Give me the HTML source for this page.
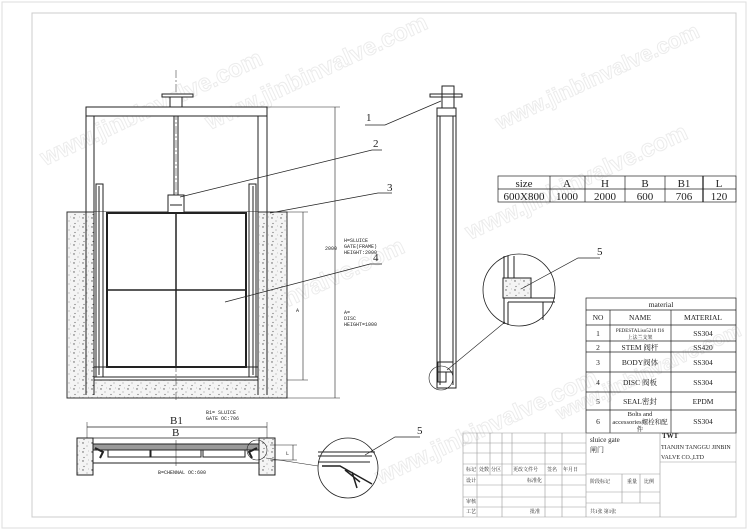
<!DOCTYPE html>
<html><head><meta charset="utf-8"><style>
html,body{margin:0;padding:0;background:#fff;width:750px;height:531px;overflow:hidden}
svg{display:block}
text{font-family:"Liberation Serif","Noto Serif CJK SC",serif;fill:#222}
.s{font-family:"Liberation Mono","Noto Sans CJK SC",monospace;font-size:5px}
.wm{font-family:"Liberation Sans",sans-serif;font-size:24px;font-weight:bold;fill:none;stroke:#ececec;stroke-width:1}
</style></head><body>
<svg width="750" height="531" viewBox="0 0 750 531" xmlns="http://www.w3.org/2000/svg" overflow="hidden">
<defs>
<pattern id="dots" width="9" height="9" patternUnits="userSpaceOnUse">
<rect width="9" height="9" fill="#f4f4f4"/>
<circle cx="2" cy="2" r="0.7" fill="#555"/><circle cx="6" cy="5" r="0.5" fill="#777"/><circle cx="3" cy="7.5" r="0.6" fill="#666"/><circle cx="7.5" cy="1" r="0.4" fill="#888"/>
</pattern>
</defs>
<rect x="2" y="2" width="744" height="526" fill="none" stroke="#ddd"/>
<rect x="32" y="13" width="704" height="504" fill="none" stroke="#ccc"/>
<text class="wm" transform="translate(45,166) rotate(-25)">www.jinbinvalve.com</text>
<text class="wm" transform="translate(210,130) rotate(-25)">www.jinbinvalve.com</text>
<text class="wm" transform="translate(187,354) rotate(-25)">www.jinbinvalve.com</text>
<text class="wm" transform="translate(470,240) rotate(-25)">www.jinbinvalve.com</text>
<text class="wm" transform="translate(380,485) rotate(-25)">www.jinbinvalve.com</text>
<text class="wm" style="font-size:22px" transform="translate(500,130) rotate(-25)">www.jinbinvalve.com</text>
<text class="wm" style="font-size:20px" transform="translate(560,420) rotate(-25)">www.jinbinvalve.com</text>
<g stroke="#222" fill="none" stroke-width="1">
<rect x="67" y="212" width="220" height="186" fill="url(#dots)" stroke="#333"/>
<rect x="94" y="212" width="164" height="168" fill="#fff" stroke="none"/>
<line x1="176" y1="70" x2="176" y2="400" stroke-dasharray="8,2,2,2" stroke-width="0.5"/>
<rect x="162" y="94" width="31" height="3" fill="#fff"/>
<rect x="170" y="97" width="12" height="11" fill="#fff"/>
<rect x="86" y="107" width="181" height="9" fill="#fff"/>
<line x1="86" y1="116" x2="86" y2="395"/><line x1="94" y1="116" x2="94" y2="395"/>
<line x1="258" y1="116" x2="258" y2="395"/><line x1="267" y1="116" x2="267" y2="395"/>
<rect x="174" y="116" width="4" height="79"/>
<rect x="168" y="195" width="16" height="18" fill="#fff"/>
<line x1="170" y1="205" x2="182" y2="205"/>
<rect x="96" y="184" width="7" height="193"/><line x1="99" y1="186" x2="99" y2="375"/>
<rect x="249" y="184" width="7" height="193"/><line x1="253" y1="186" x2="253" y2="375"/>
<rect x="107" y="213" width="139" height="154" stroke-width="2"/>
<line x1="176" y1="213" x2="176" y2="367" stroke-width="1.5"/>
<line x1="107" y1="290" x2="246" y2="290" stroke-width="1.5"/>
<rect x="94" y="367" width="164" height="10" stroke-width="1"/>
<line x1="94" y1="380" x2="258" y2="380"/>
<line x1="267" y1="107" x2="340" y2="107" stroke-width="0.5"/>
<line x1="287" y1="398" x2="340" y2="398" stroke-width="0.5"/>
<line x1="335" y1="107" x2="335" y2="398" stroke-width="0.6"/>
<line x1="287" y1="212" x2="308" y2="212" stroke-width="0.5"/>
<line x1="287" y1="380" x2="308" y2="380" stroke-width="0.5"/>
<line x1="303" y1="212" x2="303" y2="380" stroke-width="0.6"/>
<polyline points="180,197 372,150 382,150" stroke-width="0.7"/>
<polyline points="270,213 378,193 392,193" stroke-width="0.7"/>
<polyline points="225,302 370,264 382,264" stroke-width="0.7"/>
<polyline points="365,125 385,125 441,101" stroke-width="0.7"/>
<rect x="430" y="94" width="32" height="3" fill="#fff"/>
<rect x="442" y="86" width="12" height="22"/>
<rect x="437" y="108" width="19" height="280" fill="#fff"/>
<line x1="437" y1="116" x2="456" y2="116"/>
<line x1="440" y1="116" x2="440" y2="385"/><line x1="453" y1="116" x2="453" y2="385"/>
<rect x="438" y="362" width="15" height="10"/>
<rect x="438" y="372" width="8" height="10"/>
<circle cx="441" cy="378" r="12" stroke-width="0.6"/>
<circle cx="519" cy="290" r="36" stroke-width="0.8"/>
<line x1="447" y1="370" x2="505" y2="322" stroke-width="0.6"/>
<line x1="504" y1="256" x2="504" y2="324"/><line x1="508" y1="256" x2="508" y2="278"/>
<line x1="514" y1="256" x2="514" y2="278"/>
<rect x="503" y="278" width="28" height="20" fill="url(#dots)"/>
<line x1="508" y1="298" x2="555" y2="298"/><line x1="508" y1="302" x2="555" y2="302"/>
<line x1="508" y1="302" x2="508" y2="325"/><line x1="543" y1="302" x2="543" y2="320"/>
<polyline points="521,289 578,258 600,258" stroke-width="0.7"/>
<line x1="87" y1="422" x2="87" y2="440" stroke-width="0.5"/><line x1="267" y1="422" x2="267" y2="440" stroke-width="0.5"/>
<line x1="87" y1="427" x2="267" y2="427" stroke-width="0.7"/>
<line x1="93" y1="438" x2="262" y2="438" stroke-width="0.7"/>
<rect x="77" y="438" width="16" height="37" fill="url(#dots)"/>
<rect x="259" y="438" width="16" height="37" fill="url(#dots)"/>
<rect x="93" y="444" width="166" height="6" fill="#999"/>
<line x1="93" y1="463" x2="259" y2="463"/>
<rect x="108" y="450" width="42" height="7"/><rect x="151" y="450" width="50" height="7"/><rect x="203" y="450" width="42" height="7"/>
<line x1="176" y1="440" x2="176" y2="466" stroke-width="0.5"/>
<path d="M95,448 L103,452 L100,458 M257,448 L249,452 L252,458" stroke-width="2"/>
<line x1="270" y1="445" x2="297" y2="445" stroke-width="0.5"/><line x1="270" y1="460" x2="297" y2="460" stroke-width="0.5"/>
<line x1="293" y1="445" x2="293" y2="460" stroke-width="0.6"/>
<circle cx="257" cy="450" r="10" stroke-width="0.6"/>
<circle cx="348" cy="468" r="30" stroke-width="0.8"/>
<line x1="266" y1="458" x2="318" y2="466" stroke-width="0.5"/>
<line x1="318" y1="452" x2="375" y2="452"/><line x1="318" y1="456" x2="372" y2="456"/><line x1="318" y1="462" x2="370" y2="462"/>
<path d="M322,466 L340,466 L372,484 M345,470 L360,482 M352,472 L357,488" stroke-width="1.5"/>
<polyline points="365,455 395,437 420,437" stroke-width="0.7"/>
<g stroke-width="0.7">
<rect x="498" y="176" width="238" height="26"/>
<line x1="498" y1="189" x2="736" y2="189"/>
<line x1="550" y1="176" x2="550" y2="202"/><line x1="585" y1="176" x2="585" y2="202"/><line x1="625" y1="176" x2="625" y2="202"/><line x1="665" y1="176" x2="665" y2="202"/><line x1="703" y1="176" x2="703" y2="202" stroke-width="1.3"/>
<rect x="586" y="298" width="150" height="135"/>
<line x1="586" y1="310" x2="736" y2="310"/><line x1="586" y1="325" x2="736" y2="325"/><line x1="586" y1="341" x2="736" y2="341"/><line x1="586" y1="352" x2="736" y2="352"/><line x1="586" y1="372" x2="736" y2="372"/><line x1="586" y1="392" x2="736" y2="392"/><line x1="586" y1="410" x2="736" y2="410"/>
<line x1="610" y1="310" x2="610" y2="433"/><line x1="671" y1="310" x2="671" y2="433"/>
</g>
<g stroke="#999" stroke-width="0.6">
<line x1="463" y1="433" x2="736" y2="433"/>
<line x1="463" y1="433" x2="463" y2="517"/>
<line x1="463" y1="443" x2="586" y2="443"/><line x1="463" y1="453" x2="586" y2="453"/><line x1="463" y1="464" x2="586" y2="464"/><line x1="463" y1="475" x2="586" y2="475"/><line x1="463" y1="485" x2="586" y2="485"/><line x1="463" y1="497" x2="586" y2="497"/><line x1="463" y1="507" x2="586" y2="507"/>
<line x1="477" y1="433" x2="477" y2="517"/><line x1="490" y1="433" x2="490" y2="475"/><line x1="502" y1="433" x2="502" y2="517"/><line x1="512" y1="433" x2="512" y2="475"/><line x1="545" y1="433" x2="545" y2="517"/><line x1="562" y1="433" x2="562" y2="517"/>
<line x1="586" y1="433" x2="586" y2="517"/>
<line x1="660" y1="433" x2="660" y2="517"/>
<line x1="660" y1="462" x2="736" y2="462"/>
<line x1="586" y1="474" x2="660" y2="474"/><line x1="586" y1="492" x2="660" y2="492"/><line x1="586" y1="503" x2="660" y2="503"/>
<line x1="622" y1="474" x2="622" y2="503"/><line x1="640" y1="474" x2="640" y2="503"/>
</g>
</g>
<g font-size="11">
<text x="366" y="121">1</text><text x="373" y="147">2</text><text x="387" y="191">3</text><text x="373" y="261">4</text>
<text x="597" y="255">5</text><text x="417" y="434">5</text>
<text x="170" y="424">B1</text><text x="172" y="436">B</text>
</g>
<text class="s" x="344" y="242">H=SLUICE</text><text class="s" x="344" y="248">GATE(FRAME)</text><text class="s" x="344" y="254">HEIGHT:2000</text>
<text class="s" x="344" y="314">A=</text><text class="s" x="344" y="320">DISC</text><text class="s" x="344" y="326">HEIGHT=1000</text>
<text class="s" x="325" y="250">2000</text><text class="s" x="296" y="312">A</text>
<text class="s" x="206" y="414">B1= SLUICE</text><text class="s" x="206" y="420">GATE OC:706</text>
<text class="s" x="158" y="474">B=CHENNAL OC:600</text>
<text class="s" x="286" y="455">L</text>
<g font-size="11" text-anchor="middle">
<text x="524" y="187">size</text><text x="567" y="187">A</text><text x="605" y="187">H</text><text x="645" y="187">B</text><text x="684" y="187">B1</text><text x="719" y="187">L</text>
<text x="524" y="200">600X800</text><text x="567" y="200">1000</text><text x="605" y="200">2000</text><text x="645" y="200">600</text><text x="684" y="200">706</text><text x="719" y="200">120</text>
</g>
<g font-size="7.5" text-anchor="middle">
<text x="661" y="307">material</text>
<text x="598" y="320">NO</text><text x="640" y="320">NAME</text><text x="703" y="320">MATERIAL</text>
<text x="598" y="336">1</text><text x="640" y="332" font-size="5">PEDESTALiso5210 f16</text><text x="640" y="339" font-size="5">上法兰支架</text><text x="703" y="336">SS304</text>
<text x="598" y="350">2</text><text x="640" y="350">STEM 阀杆</text><text x="703" y="350">SS420</text>
<text x="598" y="365">3</text><text x="640" y="365">BODY阀体</text><text x="703" y="365">SS304</text>
<text x="598" y="385">4</text><text x="640" y="385">DISC 阀板</text><text x="703" y="385">SS304</text>
<text x="598" y="404">5</text><text x="640" y="404">SEAL密封</text><text x="703" y="404">EPDM</text>
<text x="598" y="424">6</text><text x="640" y="416" font-size="6.5">Bolts and</text><text x="640" y="424" font-size="6.5">accessories螺栓和配</text><text x="640" y="431" font-size="6.5">件</text><text x="703" y="424">SS304</text>
</g>
<g font-size="5" fill="#333">
<text x="466" y="471">标记</text><text x="479" y="471">处数</text><text x="491" y="471">分区</text><text x="513" y="471">更改文件号</text><text x="547" y="471">签名</text><text x="563" y="471">年月日</text>
<text x="466" y="482">设计</text><text x="527" y="482">标准化</text>
<text x="466" y="503">审核</text><text x="466" y="513">工艺</text><text x="530" y="513">批准</text>
<text x="590" y="483">阶段标记</text><text x="627" y="483">重量</text><text x="644" y="483">比例</text>
<text x="590" y="513">共1张 第1张</text>
</g>
<text x="590" y="442" font-size="7">sluice gate</text>
<text x="590" y="452" font-size="7">闸门</text>
<text x="662" y="438" font-size="7" font-weight="bold" font-family="Liberation Sans">TWT</text>
<text x="661" y="449" font-size="6">TIANJIN TANGGU JINBIN</text>
<text x="661" y="459" font-size="6">VALVE CO.,LTD</text>
</svg>
</body></html>
